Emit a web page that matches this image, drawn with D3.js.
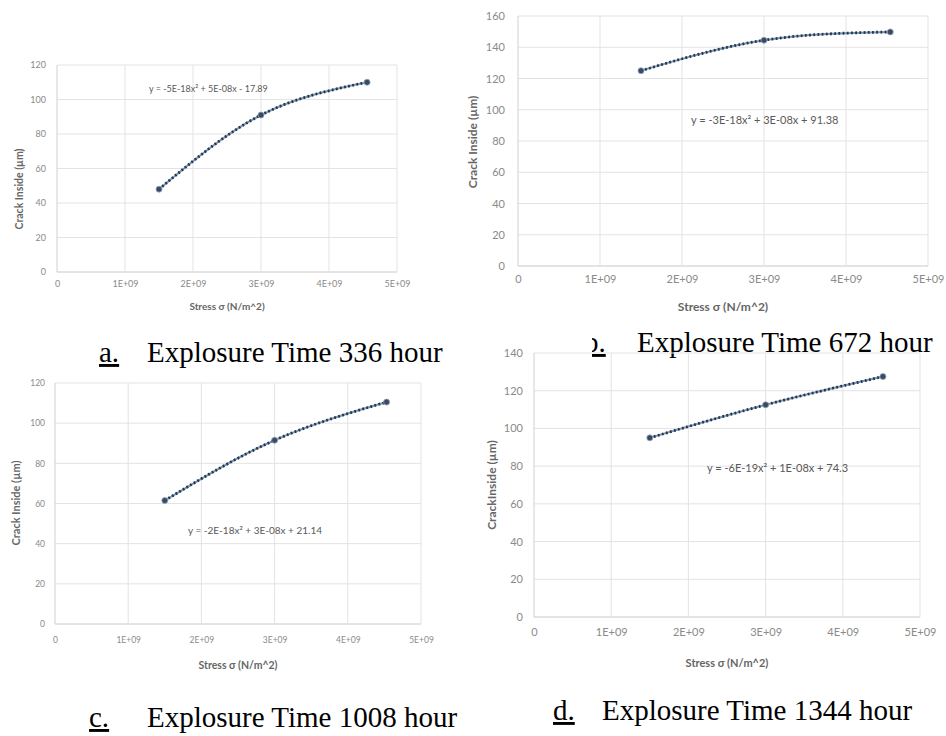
<!DOCTYPE html>
<html>
<head>
<meta charset="utf-8">
<script src="https://cdn.jsdelivr.net/npm/d3@7/dist/d3.min.js"></script>
<style>
  html, body { margin: 0; padding: 0; background: #fff; }
  svg { display: block; }
</style>
</head>
<body>
<svg id="chart" width="946" height="736"></svg>
<script>
// ---------- DATA ----------
const xTickValues = [0, 1e9, 2e9, 3e9, 4e9, 5e9];
const xTickLabels = ["0", "1E+09", "2E+09", "3E+09", "4E+09", "5E+09"];

const stressA = [1.5e9, 3.0e9, 4.56e9];
const crackA  = [48, 91, 110];
const stressB = [1.5e9, 3.0e9, 4.54e9];
const crackB  = [125, 144.5, 149.8];
const stressC = [1.5e9, 3.0e9, 4.53e9];
const crackC  = [61.5, 91.5, 110.5];
const stressD = [1.5e9, 3.0e9, 4.52e9];
const crackD  = [95, 112.5, 127.5];

const yMaxA = 120, yMaxB = 160, yMaxC = 120, yMaxD = 140;

const equationA = "y = -5E-18x\u00B2 + 5E-08x - 17.89";
const equationB = "y = -3E-18x\u00B2 + 3E-08x + 91.38";
const equationC = "y = -2E-18x\u00B2 + 3E-08x + 21.14";
const equationD = "y = -6E-19x\u00B2 + 1E-08x + 74.3";

const xTitleA = "Stress \u03C3 (N/m^2)";
const xTitleB = "Stress  \u03C3 (N/m^2)";
const xTitleC = "Stress  \u03C3 (N/m^2)";
const xTitleD = "Stress \u03C3 (N/m^2)";
const yTitleA = "Crack Inside (\u00B5m)";
const yTitleB = "Crack Inside (\u00B5m)";
const yTitleC = "Crack Inside (\u00B5m)";
const yTitleD = "CrackInside (\u00B5m)";

const captionLetters = ["a.", "b.", "c.", "d."];
const captionTexts = ["Explosure Time 336 hour", "Explosure Time 672 hour",
                      "Explosure Time 1008 hour", "Explosure Time 1344 hour"];

// ---------- DRAW ----------
const svg = d3.select("#chart");
const sansFont = "Lato, 'Open Sans', 'Liberation Sans', sans-serif";

function panel(cfg) {
  const g = svg.append("g");
  const x = d3.scaleLinear().domain([0, 5e9]).range([cfg.left, cfg.right]);
  const y = d3.scaleLinear().domain([0, cfg.yMax]).range([cfg.bottom, cfg.top]);
  const yTicks = d3.range(0, cfg.yMax + 1, 20);

  // gridlines
  g.append("g").selectAll("line.h").data(yTicks).join("line")
    .attr("x1", cfg.left).attr("x2", cfg.right)
    .attr("y1", d => y(d)).attr("y2", d => y(d))
    .attr("stroke", d => d === 0 ? "#c8c8c8" : "#e3e3e3").attr("stroke-width", 1);
  g.append("g").selectAll("line.v").data(xTickValues).join("line")
    .attr("x1", d => x(d)).attr("x2", d => x(d))
    .attr("y1", cfg.top).attr("y2", cfg.bottom)
    .attr("stroke", d => d === 0 ? "#d0d0d0" : "#e3e3e3").attr("stroke-width", 1);

  // axes via d3 axis (labels only)
  const xAxis = d3.axisBottom(x).tickValues(xTickValues)
    .tickFormat((d, i) => xTickLabels[i]).tickSize(0);
  g.append("g").attr("transform", `translate(0,${cfg.xLabelY - cfg.tickFont * 0.4})`)
    .call(xAxis)
    .call(s => s.select(".domain").remove())
    .call(s => s.selectAll("text").attr("dy", "0.35em").attr("y", 0)
      .attr("fill", "#8a8a8a").attr("font-family", sansFont).attr("font-size", cfg.tickFont));
  const yAxis = d3.axisLeft(y).tickValues(yTicks).tickSize(0);
  g.append("g").attr("transform", `translate(${cfg.yLabelRight},0)`)
    .call(yAxis)
    .call(s => s.select(".domain").remove())
    .call(s => s.selectAll("text").attr("x", 0)
      .attr("fill", "#8a8a8a").attr("font-family", sansFont).attr("font-size", cfg.tickFont));

  // series
  const pts = cfg.xs.map((v, i) => [v, cfg.ys[i]]);
  const line = d3.line().x(d => x(d[0])).y(d => y(d[1])).curve(d3.curveNatural);
  g.append("path").attr("d", line(pts)).attr("fill", "none")
    .attr("stroke", "#6f97c4").attr("stroke-width", 2);
  g.append("path").attr("d", line(pts)).attr("fill", "none")
    .attr("stroke", "#2f343c").attr("stroke-width", 2.8)
    .attr("stroke-dasharray", "1.8,2.4");
  g.append("g").selectAll("circle").data(pts).join("circle")
    .attr("cx", d => x(d[0])).attr("cy", d => y(d[1])).attr("r", 3)
    .attr("fill", "#3d4a5e").attr("stroke", "#8aa4c4").attr("stroke-width", 0.8);

  // equation
  g.append("text").attr("x", cfg.eqX).attr("y", cfg.eqY).attr("dy", "0.35em")
    .attr("font-family", sansFont).attr("font-size", cfg.eqFont)
    .attr("fill", "#595959").text(cfg.equation);

  // axis titles
  g.append("text").attr("x", (cfg.left + cfg.right) / 2).attr("y", cfg.xTitleY)
    .attr("dy", "0.35em").attr("text-anchor", "middle")
    .attr("font-family", sansFont).attr("font-weight", "bold")
    .attr("font-size", cfg.titleFont).attr("fill", "#666").text(cfg.xTitle);
  g.append("text").attr("transform", `translate(${cfg.yTitleX},${cfg.yTitleY}) rotate(-90)`)
    .attr("dy", "0.35em").attr("text-anchor", "middle")
    .attr("font-family", sansFont).attr("font-weight", "bold")
    .attr("font-size", cfg.yTitleFont).attr("fill", "#666").text(cfg.yTitle);
}

function caption(letter, text, lx, tx, by) {
  svg.append("text").attr("x", lx).attr("y", by)
    .attr("font-family", "'Liberation Serif', 'Times New Roman', serif")
    .attr("font-size", 29).attr("fill", "#000")
    .style("text-decoration", "underline").text(letter);
  svg.append("text").attr("x", tx).attr("y", by)
    .attr("font-family", "'Liberation Serif', 'Times New Roman', serif")
    .attr("font-size", 29).attr("fill", "#000").text(text);
}

// panel a
panel({ left: 57, right: 397, top: 65, bottom: 272, yMax: yMaxA,
  xs: stressA, ys: crackA, tickFont: 9, titleFont: 10, yTitleFont: 10.5, eqFont: 9,
  yLabelRight: 46, xLabelY: 287, xTitleY: 306, yTitleX: 19, yTitleY: 189,
  eqX: 149, eqY: 89, equation: equationA, xTitle: xTitleA, yTitle: yTitleA });

// panel b
panel({ left: 518, right: 928, top: 16, bottom: 266, yMax: yMaxB,
  xs: stressB, ys: crackB, tickFont: 11, titleFont: 12, yTitleFont: 12, eqFont: 11,
  yLabelRight: 505, xLabelY: 284, xTitleY: 307, yTitleX: 473, yTitleY: 142,
  eqX: 691, eqY: 120, equation: equationB, xTitle: xTitleB, yTitle: yTitleB });

// caption b (partly hidden by chart d)
caption(captionLetters[1], captionTexts[1], 584, 637, 352);
svg.append("rect").attr("x", 540).attr("y", 328).attr("width", 52).attr("height", 32).attr("fill", "#fff");

// panel c
panel({ left: 55, right: 421, top: 383, bottom: 624, yMax: yMaxC,
  xs: stressC, ys: crackC, tickFont: 8.5, titleFont: 10.5, yTitleFont: 11, eqFont: 10,
  yLabelRight: 45, xLabelY: 643, xTitleY: 665, yTitleX: 16, yTitleY: 503,
  eqX: 188, eqY: 530, equation: equationC, xTitle: xTitleC, yTitle: yTitleC });

// panel d
panel({ left: 534, right: 920, top: 353, bottom: 617, yMax: yMaxD,
  xs: stressD, ys: crackD, tickFont: 11, titleFont: 11, yTitleFont: 12, eqFont: 11,
  yLabelRight: 523, xLabelY: 637, xTitleY: 663, yTitleX: 492, yTitleY: 485,
  eqX: 707, eqY: 468, equation: equationD, xTitle: xTitleD, yTitle: yTitleD });

// captions a, c, d
caption(captionLetters[0], captionTexts[0], 99, 147, 362);
caption(captionLetters[2], captionTexts[2], 89, 147, 727);
caption(captionLetters[3], captionTexts[3], 553, 602, 720);
</script>
</body>
</html>
